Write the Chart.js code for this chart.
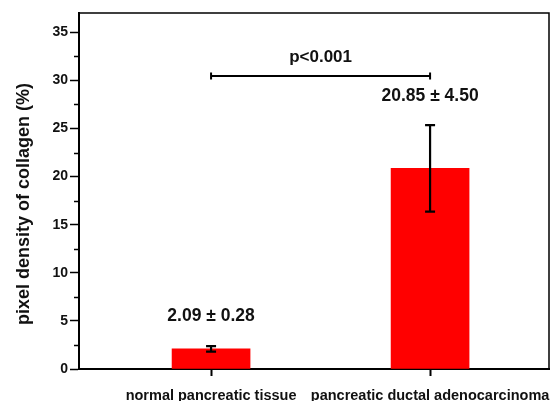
<!DOCTYPE html>
<html><head><meta charset="utf-8">
<script src="https://cdn.jsdelivr.net/npm/chart.js@4"></script>
<style>html,body{margin:0;padding:0;background:#fff;}canvas{display:block;}</style>
</head><body>
<canvas id="c" width="553" height="401"></canvas>
<script>
const categories = ['normal pancreatic tissue', 'pancreatic ductal adenocarcinoma'];
const positions = [1, 2];
const means = [2.09, 20.85];
const errors = [0.28, 4.50];
const valueLabels = ['2.09 \u00b1 0.28', '20.85 \u00b1 4.50'];
const valueLabelY = [5.45, 28.35];
const pText = 'p<0.001';
const bracketY = 30.45;
const pTextY = 32.35;
const yTitle = 'pixel density of collagen (%)';
const yTicks = [0, 5, 10, 15, 20, 25, 30, 35];
const yMinorTicks = [2.5, 7.5, 12.5, 17.5, 22.5, 27.5, 32.5];

const FONT = '"Liberation Sans", Arial, sans-serif';

const overlay = {
  id: 'overlay',
  afterDatasetsDraw(chart) {
    const ctx = chart.ctx, x = chart.scales.x, y = chart.scales.y, a = chart.chartArea;
    ctx.save();
    ctx.strokeStyle = '#000'; ctx.lineWidth = 1.5;
    ctx.beginPath();
    ctx.moveTo(a.left, a.top); ctx.lineTo(a.right, a.top); ctx.lineTo(a.right, a.bottom);
    ctx.stroke();
    yMinorTicks.forEach(v => {
      const py = Math.round(y.getPixelForValue(v)) + 0.5;
      ctx.beginPath(); ctx.moveTo(a.left - 5, py); ctx.lineTo(a.left, py); ctx.stroke();
    });
    ctx.lineWidth = 2.2;
    positions.forEach((p, i) => {
      const px = x.getPixelForValue(p);
      const lo = y.getPixelForValue(means[i] - errors[i]);
      const hi = y.getPixelForValue(means[i] + errors[i]);
      ctx.beginPath();
      ctx.moveTo(px, lo); ctx.lineTo(px, hi);
      ctx.moveTo(px - 5, lo); ctx.lineTo(px + 5, lo);
      ctx.moveTo(px - 5, hi); ctx.lineTo(px + 5, hi);
      ctx.stroke();
    });
    ctx.fillStyle = '#111';
    ctx.textAlign = 'center'; ctx.textBaseline = 'middle';
    ctx.font = 'bold 17.5px ' + FONT;
    positions.forEach((p, i) => {
      ctx.fillText(valueLabels[i], x.getPixelForValue(p), y.getPixelForValue(valueLabelY[i]));
    });
    const bx1 = x.getPixelForValue(positions[0]), bx2 = x.getPixelForValue(positions[1]);
    const by = y.getPixelForValue(bracketY);
    ctx.lineWidth = 2;
    ctx.beginPath();
    ctx.moveTo(bx1, by); ctx.lineTo(bx2, by);
    ctx.moveTo(bx1, by - 3.5); ctx.lineTo(bx1, by + 3.5);
    ctx.moveTo(bx2, by - 3.5); ctx.lineTo(bx2, by + 3.5);
    ctx.stroke();
    ctx.font = 'bold 17px ' + FONT;
    ctx.fillText(pText, (bx1 + bx2) / 2, y.getPixelForValue(pTextY));
    // y-axis title
    ctx.translate(24, 204);
    ctx.rotate(-Math.PI / 2);
    ctx.font = 'bold 18px ' + FONT;
    ctx.fillText(yTitle, 0, 0);
    ctx.restore();
  }
};

new Chart(document.getElementById('c'), {
  type: 'bar',
  data: {
    datasets: [{
      data: positions.map((p, i) => ({ x: p, y: means[i] })),
      backgroundColor: '#ff0000',
      borderWidth: 0,
      barThickness: 78
    }]
  },
  options: {
    responsive: false,
    animation: false,
    devicePixelRatio: 1,
    layout: { padding: { top: 13, right: 4, left: 0, bottom: 0 } },
    plugins: { legend: { display: false }, tooltip: { enabled: false } },
    scales: {
      x: {
        type: 'linear',
        offset: false,
        min: 0.397, max: 2.543,
        afterBuildTicks(s) { s.ticks = positions.map(v => ({ value: v })); },
        afterFit(s) { s.height = 32; s.paddingLeft = 0; s.paddingRight = 0; },
        grid: { offset: false, drawOnChartArea: false, tickLength: 7, tickWidth: 2, tickColor: '#000' },
        border: { color: '#000', width: 2 },
        ticks: {
          autoSkip: false, maxRotation: 0, minRotation: 0, padding: 11,
          color: '#111', font: { family: FONT, size: 14.5, weight: 'bold' },
          callback: (v) => { const i = positions.indexOf(v); return i >= 0 ? categories[i] : ''; }
        }
      },
      y: {
        min: 0, max: 37,
        afterBuildTicks(s) { s.ticks = yTicks.map(v => ({ value: v })); },
        afterFit(s) { s.width = 79; s.paddingTop = 0; s.paddingBottom = 0; },
        grid: { drawOnChartArea: false, tickLength: 9, tickWidth: 1.5, tickColor: '#000' },
        border: { color: '#000', width: 2 },
        ticks: { padding: 2, color: '#111', font: { family: FONT, size: 14, weight: 'bold' } }
      }
    }
  },
  plugins: [overlay]
});
</script>
</body></html>
